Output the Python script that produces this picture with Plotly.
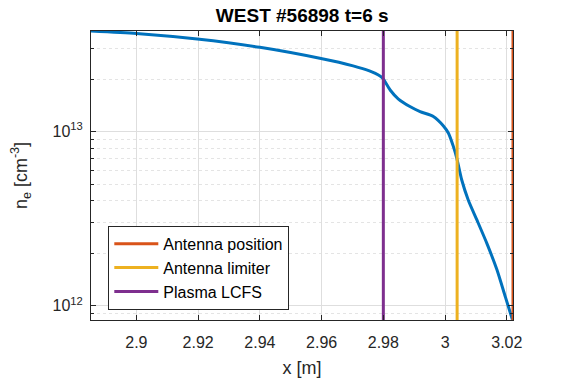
import numpy as np
import plotly.graph_objects as go

# density profile (x in m, n_e in cm^-3)
x_pos = [2.8853, 2.9000, 2.9197, 2.9400, 2.9594, 2.9702, 2.9757, 2.9784,
         2.9798, 2.9822, 2.9848, 2.9886, 2.9919, 2.9962, 2.9994, 3.0011, 3.0027,
         3.0038, 3.0054, 3.0075, 3.0103, 3.0135, 3.0168, 3.0195, 3.0218]
n_e = [3.77e13, 3.65e13, 3.39e13, 3.04e13, 2.63e13, 2.38e13, 2.22e13, 2.11e13,
       2.02e13, 1.73e13, 1.54e13, 1.39e13, 1.30e13, 1.22e13, 1.08e13, 9.78e12, 8.19e12,
       7.02e12, 5.27e12, 4.05e12, 3.11e12, 2.29e12, 1.61e12, 1.13e12, 8.35e11]

# vertical markers
marker_names = ['Antenna position', 'Antenna limiter', 'Plasma LCFS']
marker_x = [3.0220, 3.0039, 2.98]
marker_colors = ['#D95319', '#EDB120', '#7E2F8E']

x_lim = [2.8853, 3.0220]
y_lim = [8.3e11, 3.77e13]

x_ticks = [2.9, 2.92, 2.94, 2.96, 2.98, 3.0, 3.02]
x_ticktext = ['2.9', '2.92', '2.94', '2.96', '2.98', '3', '3.02']
y_ticks = [1e12, 1e13]
y_ticktext = ['10<sup>12</sup>', '10<sup>13</sup>']
y_minor = [9e11, 2e12, 3e12, 4e12, 5e12, 6e12, 7e12, 8e12, 9e12, 2e13, 3e13]

axis_col = '#262626'
font_fam = 'Liberation Sans, Arial, sans-serif'

fig = go.Figure()

fig.add_trace(go.Scatter(
    x=x_pos, y=n_e, mode='lines',
    line=dict(color='#0072BD', width=3, shape='spline', smoothing=0.6),
    showlegend=False
))

for name, xv, col in zip(marker_names, marker_x, marker_colors):
    fig.add_trace(go.Scatter(
        x=[xv, xv], y=[y_lim[0] / 2, y_lim[1] * 2], mode='lines',
        line=dict(color=col, width=3),
        name=name, legendgroup=name
    ))

fig.update_layout(
    width=567, height=378,
    margin=dict(l=91, r=54, t=31, b=58),
    paper_bgcolor='white', plot_bgcolor='white',
    font=dict(family=font_fam, color=axis_col, size=16),
    title=dict(text='<b>WEST #56898 t=6 s</b>', x=0.533, xanchor='center',
               y=0.959, yanchor='middle', font=dict(size=19, color='black')),
    legend=dict(x=0.041, y=0.035, xanchor='left', yanchor='bottom',
                bgcolor='white', bordercolor=axis_col, borderwidth=1,
                font=dict(size=16, color='black'), tracegroupgap=0,
                itemwidth=44),
)

fig.update_xaxes(
    range=x_lim, tickvals=x_ticks, ticktext=x_ticktext, automargin=False,
    showline=True, linecolor=axis_col, linewidth=1, mirror='allticks',
    ticks='inside', ticklen=5, tickcolor=axis_col, ticklabelstandoff=8,
    showgrid=True, gridcolor='#dedede', gridwidth=1, zeroline=False,
    title=dict(text='x [m]', font=dict(size=18), standoff=12),
    tickfont=dict(size=16)
)

fig.update_yaxes(
    type='log', range=[np.log10(y_lim[0]), np.log10(y_lim[1])],
    tickvals=y_ticks, ticktext=y_ticktext, automargin=False,
    showline=True, linecolor=axis_col, linewidth=1, mirror='allticks',
    ticks='inside', ticklen=5, tickcolor=axis_col, ticklabelstandoff=4,
    showgrid=True, gridcolor='#dedede', gridwidth=1, zeroline=False,
    minor=dict(tickvals=y_minor, showgrid=True, gridcolor='#e4e4e4',
               griddash='dot', ticks='inside', ticklen=3, tickcolor=axis_col),
    title=dict(text='n<sub>e</sub> [cm<sup>-3</sup>]', font=dict(size=18), standoff=20),
    tickfont=dict(size=16)
)

# drop the default page margin so the figure sits at the window origin
fig.write_html('out.html', config={'displayModeBar': False},
               post_script="document.body.style.margin='0';")
